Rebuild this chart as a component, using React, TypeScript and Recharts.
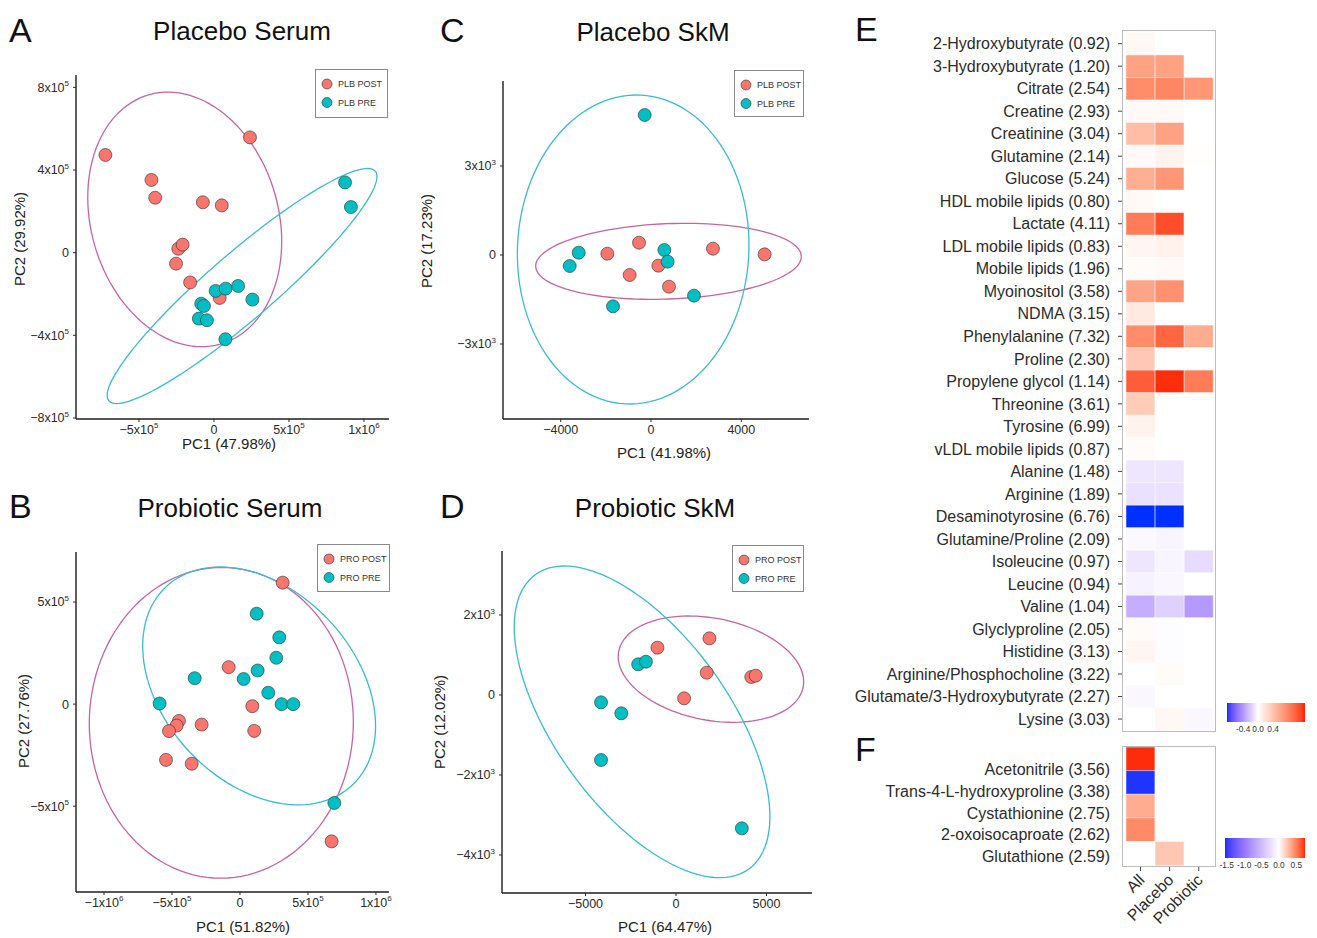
import React from 'react';
import { ScatterChart, Scatter, XAxis, YAxis, Legend, BarChart, Bar, Cell } from 'recharts';

const FONT = '"Liberation Sans", Arial, Helvetica, sans-serif';
const POST_FILL = '#F8766D';
const PRE_FILL = '#00BFC4';
const POST_RING = '#C7649E';
const PRE_RING = '#39BCCB';
const W = 1317;
const H = 938;

type Pt = { x: number; y: number };
type Ell = { cx: number; cy: number; ux: number; uy: number; vx: number; vy: number };

// ---------------- A: Placebo Serum ----------------
const placeboSerumPost: Pt[] = [
  { x: -7.24e5, y: 4.73e5 }, { x: 2.4e5, y: 5.58e5 }, { x: -4.17e5, y: 3.52e5 },
  { x: -3.92e5, y: 2.66e5 }, { x: -0.74e5, y: 2.44e5 }, { x: 0.52e5, y: 2.29e5 },
  { x: -2.38e5, y: 0.19e5 }, { x: -2.09e5, y: 0.39e5 }, { x: -2.53e5, y: -0.53e5 },
  { x: -1.59e5, y: -1.44e5 }, { x: 0.38e5, y: -2.19e5 },
];
const placeboSerumPre: Pt[] = [
  { x: 8.74e5, y: 3.4e5 }, { x: 9.13e5, y: 2.21e5 }, { x: 0.11e5, y: -1.85e5 },
  { x: 0.78e5, y: -1.74e5 }, { x: 1.61e5, y: -1.61e5 }, { x: 2.56e5, y: -2.27e5 },
  { x: -0.85e5, y: -2.47e5 }, { x: -0.67e5, y: -2.58e5 }, { x: -1.01e5, y: -3.19e5 },
  { x: -0.47e5, y: -3.27e5 }, { x: 0.76e5, y: -4.19e5 },
];
const placeboSerumPostEllipse: Ell = { cx: -1.95e5, cy: 1.61e5, ux: 2.36e5, uy: -6.04e5, vx: -6.02e5, vy: -1.22e5 };
const placeboSerumPreEllipse: Ell = { cx: 1.872e5, cy: -1.613e5, ux: 8.876e5, uy: 5.562e5, vx: -1.457e5, vy: 1.205e5 };

// ---------------- B: Probiotic Serum ----------------
const probioticSerumPost: Pt[] = [
  { x: 3.14e5, y: 5.95e5 }, { x: -0.83e5, y: 1.81e5 }, { x: 0.91e5, y: -0.1e5 },
  { x: 1.05e5, y: -1.31e5 }, { x: -2.82e5, y: -1.0e5 }, { x: -4.49e5, y: -0.82e5 },
  { x: -4.66e5, y: -1.05e5 }, { x: -5.22e5, y: -1.32e5 }, { x: -5.44e5, y: -2.73e5 },
  { x: -3.55e5, y: -2.92e5 }, { x: 6.74e5, y: -6.72e5 },
];
const probioticSerumPre: Pt[] = [
  { x: 1.23e5, y: 4.43e5 }, { x: 2.89e5, y: 3.27e5 }, { x: 2.67e5, y: 2.27e5 },
  { x: 1.3e5, y: 1.65e5 }, { x: 0.27e5, y: 1.23e5 }, { x: -3.33e5, y: 1.27e5 },
  { x: 2.08e5, y: 0.56e5 }, { x: 3.06e5, y: 0 }, { x: 3.92e5, y: 0 },
  { x: -5.91e5, y: 0.03e5 }, { x: 6.94e5, y: -4.84e5 },
];
const probioticSerumPostEllipse: Ell = { cx: -1.373e5, cy: -0.915e5, ux: 9.71e5, uy: 0, vx: 0.05e5, vy: 7.61e5 };
const probioticSerumPreEllipse: Ell = { cx: 1.409e5, cy: 0.891e5, ux: -6.858e5, uy: 4.851e5, vx: -5.128e5, vy: -3.222e5 };

// ---------------- C: Placebo SkM ----------------
const placeboSkmPost: Pt[] = [
  { x: -1934, y: 45 }, { x: -531, y: 416 }, { x: -945, y: -674 }, { x: 325, y: -360 },
  { x: 797, y: -1067 }, { x: 2745, y: 213 }, { x: 5033, y: 22 },
];
const placeboSkmPre: Pt[] = [
  { x: -280, y: 4719 }, { x: -3203, y: 79 }, { x: -3601, y: -371 }, { x: 590, y: 169 },
  { x: 738, y: -225 }, { x: 1904, y: -1371 }, { x: -1683, y: -1730 },
];
const placeboSkmPostEllipse: Ell = { cx: 775, cy: -214, ux: 5882, uy: 175, vx: -65, vy: 1269 };
const placeboSkmPreEllipse: Ell = { cx: -790, cy: 185, ux: 334, uy: 5205, vx: -5119, vy: 190 };

// ---------------- D: Probiotic SkM ----------------
const probioticSkmPost: Pt[] = [
  { x: -1026, y: 1183 }, { x: 1847, y: 1417 }, { x: 1698, y: 558 },
  { x: 448, y: -83 }, { x: 4160, y: 450 }, { x: 4403, y: 483 },
];
const probioticSkmPre: Pt[] = [
  { x: -2090, y: 767 }, { x: -1660, y: 833 }, { x: -4142, y: -183 },
  { x: -3022, y: -458 }, { x: -4142, y: -1625 }, { x: 3638, y: -3333 },
];
const probioticSkmPostEllipse: Ell = { cx: 1931, cy: 646, ux: 5091, uy: -453, vx: 558, vy: 1249 };
const probioticSkmPreEllipse: Ell = { cx: -1875, cy: -671, ux: -5863, uy: 3691, vx: -3939, vy: -1248 };

// ---------------- E: heatmap ----------------
const eMetabolites = [
  '2-Hydroxybutyrate (0.92)', '3-Hydroxybutyrate (1.20)', 'Citrate (2.54)', 'Creatine (2.93)',
  'Creatinine (3.04)', 'Glutamine (2.14)', 'Glucose (5.24)', 'HDL mobile lipids (0.80)',
  'Lactate (4.11)', 'LDL mobile lipids (0.83)', 'Mobile lipids (1.96)', 'Myoinositol (3.58)',
  'NDMA (3.15)', 'Phenylalanine (7.32)', 'Proline (2.30)', 'Propylene glycol (1.14)',
  'Threonine (3.61)', 'Tyrosine (6.99)', 'vLDL mobile lipids (0.87)', 'Alanine (1.48)',
  'Arginine (1.89)', 'Desaminotyrosine (6.76)', 'Glutamine/Proline (2.09)', 'Isoleucine (0.97)',
  'Leucine (0.94)', 'Valine (1.04)', 'Glyclyproline (2.05)', 'Histidine (3.13)',
  'Arginine/Phosphocholine (3.22)', 'Glutamate/3-Hydroxybutyrate (2.27)', 'Lysine (3.03)',
];
const eAll = [0.05, 0.62, 0.75, 0.04, 0.44, 0.04, 0.54, 0.04, 0.85, 0.06, 0.03, 0.6, 0.15, 0.75, 0.37, 1.02,
  0.34, 0.08, 0.03, -0.1, -0.12, -0.83, -0.025, -0.1, -0.05, -0.32, 0.03, 0.06, 0, -0.03, 0];
const ePlacebo = [0, 0.62, 0.79, 0.04, 0.62, 0.08, 0.69, 0, 1.09, 0.09, 0.04, 0.72, 0, 0.97, 0, 1.21,
  0, 0, 0, -0.1, -0.11, -0.83, -0.04, -0.04, -0.03, -0.18, -0.01, -0.01, 0.03, 0, 0.05];
const eProbiotic = [0, 0, 0.69, 0, 0, 0.01, 0, 0, 0, 0, 0, 0, 0, 0.55, 0, 0.85,
  0, 0, 0, 0, 0, 0, 0, -0.14, 0, -0.4, 0, 0, 0, 0, -0.03];
const eLimits = [-0.83, 1.25];
const eBarTicks = [-0.4, 0, 0.4];

// ---------------- F: heatmap ----------------
const fMetabolites = [
  'Acetonitrile (3.56)', 'Trans-4-L-hydroxyproline (3.38)', 'Cystathionine (2.75)',
  '2-oxoisocaproate (2.62)', 'Glutathione (2.59)',
];
const fAll = [0.73, -1.52, 0.33, 0.46, 0];
const fPlacebo = [0, 0, 0, 0, 0.23];
const fProbiotic = [0, 0, 0, 0, 0];
const fLimits = [-1.55, 0.75];
const fBarTicks = [-1.5, -1.0, -0.5, 0.0, 0.5];

const groups = ['All', 'Placebo', 'Probiotic'];

// ---------------- colour scale (Lab interpolation like ggplot gradient2) ----------------
const toLin = (c: number) => { const v = c / 255; return v <= 0.04045 ? v / 12.92 : Math.pow((v + 0.055) / 1.055, 2.4); };
const toSrgb = (c: number) => { const v = c <= 0.0031308 ? 12.92 * c : 1.055 * Math.pow(c, 1 / 2.4) - 0.055; return Math.round(Math.max(0, Math.min(1, v)) * 255); };
const hexToLab = (hex: string) => {
  const r = toLin(parseInt(hex.slice(1, 3), 16)), g = toLin(parseInt(hex.slice(3, 5), 16)), b = toLin(parseInt(hex.slice(5, 7), 16));
  const X = (0.4124 * r + 0.3576 * g + 0.1805 * b) / 0.95047;
  const Y = 0.2126 * r + 0.7152 * g + 0.0722 * b;
  const Z = (0.0193 * r + 0.1192 * g + 0.9505 * b) / 1.08883;
  const f = (t: number) => (t > 0.008856 ? Math.cbrt(t) : 7.787 * t + 16 / 116);
  const fx = f(X), fy = f(Y), fz = f(Z);
  return [116 * fy - 16, 500 * (fx - fy), 200 * (fy - fz)];
};
const labToCss = (L: number, a: number, bb: number) => {
  const fy = (L + 16) / 116, fx = fy + a / 500, fz = fy - bb / 200;
  const inv = (t: number) => (t * t * t > 0.008856 ? t * t * t : (t - 16 / 116) / 7.787);
  const X = inv(fx) * 0.95047, Y = inv(fy), Z = inv(fz) * 1.08883;
  const r = 3.2406 * X - 1.5372 * Y - 0.4986 * Z;
  const g = -0.9689 * X + 1.8758 * Y + 0.0415 * Z;
  const b = 0.0557 * X - 0.204 * Y + 1.057 * Z;
  return `rgb(${toSrgb(r)},${toSrgb(g)},${toSrgb(b)})`;
};
const LAB_W = hexToLab('#FFFFFF');
const LAB_R = hexToLab('#FF1E00');
const LAB_B = hexToLab('#0030FF');
const makeScale = (lo: number, hi: number) => (v: number) => {
  const end = v >= 0 ? LAB_R : LAB_B;
  const t = Math.max(0, Math.min(1, v >= 0 ? v / hi : v / lo));
  return labToCss(
    LAB_W[0] + (end[0] - LAB_W[0]) * t,
    LAB_W[1] + (end[1] - LAB_W[1]) * t,
    LAB_W[2] + (end[2] - LAB_W[2]) * t,
  );
};
const eColor = makeScale(eLimits[0], eLimits[1]);
const fColor = makeScale(fLimits[0], fLimits[1]);

// ---------------- helpers ----------------
const ellipsePoints = (e: Ell): Pt[] => {
  const pts: Pt[] = [];
  const n = 120;
  for (let i = 0; i <= n; i++) {
    const t = (2 * Math.PI * i) / n;
    pts.push({ x: e.cx + e.ux * Math.cos(t) + e.vx * Math.sin(t), y: e.cy + e.uy * Math.cos(t) + e.vy * Math.sin(t) });
  }
  return pts;
};

const fmtTick = (v: number, sci: boolean) => {
  if (v === 0) return { base: '0', exp: '' };
  const sign = v < 0 ? '\u2212' : '';
  const a = Math.abs(v);
  if (!sci) return { base: sign + a, exp: '' };
  const e = Math.floor(Math.log10(a) + 1e-9);
  const m = Math.round((a / Math.pow(10, e)) * 100) / 100;
  return { base: `${sign}${m}x10`, exp: String(e) };
};

const makeTick = (sci: boolean, side: 'left' | 'bottom') => (props: any) => {
  const { x, y, payload } = props;
  const { base, exp } = fmtTick(payload.value, sci);
  return (
    <text x={x} y={y} textAnchor={side === 'left' ? 'end' : 'middle'} dy={side === 'left' ? 4.4 : 9.6}
      fontSize={12.5} fill="#2a2a2a" fontFamily={FONT}>
      <tspan>{base}</tspan>
      {exp ? <tspan dy={-5.5} fontSize={8}>{exp}</tspan> : null}
    </text>
  );
};

const dot = (fill: string) => (props: any) => (
  <circle cx={props.cx} cy={props.cy} r={6.5} fill={fill} stroke="#2e2e2e" strokeWidth={0.6} />
);

type PanelDef = {
  letter: string; letterPos: [number, number];
  title: string; titlePos: [number, number];
  chart: { left: number; top: number };
  plot: { left: number; top: number; right: number; bottom: number };
  xDomain: [number, number]; yDomain: [number, number];
  xTicks: number[]; yTicks: number[]; xSci: boolean; ySci: boolean;
  xLabel: string; xLabelPos: [number, number];
  yLabel: string; yLabelPos: [number, number];
  legendNames: [string, string];
  legendBox: { left: number; top: number; width: number; height: number };
  post: Pt[]; pre: Pt[]; postEll: Ell; preEll: Ell;
};

const panels: PanelDef[] = [
  {
    letter: 'A', letterPos: [9, 42], title: 'Placebo Serum', titlePos: [242, 40],
    chart: { left: 0, top: 65 }, plot: { left: 76, top: 75, right: 389, bottom: 419 },
    xDomain: [-9.2e5, 1.167e6], yDomain: [-8.05e5, 8.6e5],
    xTicks: [-5e5, 0, 5e5, 1e6], yTicks: [-8e5, -4e5, 0, 4e5, 8e5], xSci: true, ySci: true,
    xLabel: 'PC1 (47.98%)', xLabelPos: [229, 449], yLabel: 'PC2 (29.92%)', yLabelPos: [25, 239],
    legendNames: ['PLB POST', 'PLB PRE'], legendBox: { left: 315, top: 69, width: 73, height: 49 },
    post: placeboSerumPost, pre: placeboSerumPre, postEll: placeboSerumPostEllipse, preEll: placeboSerumPreEllipse,
  },
  {
    letter: 'B', letterPos: [9, 518], title: 'Probiotic Serum', titlePos: [230, 517],
    chart: { left: 0, top: 542 }, plot: { left: 76, top: 552, right: 389, bottom: 892 },
    xDomain: [-1.206e6, 1.096e6], yDomain: [-9.2e5, 7.45e5],
    xTicks: [-1e6, -5e5, 0, 5e5, 1e6], yTicks: [-5e5, 0, 5e5], xSci: true, ySci: true,
    xLabel: 'PC1 (51.82%)', xLabelPos: [243, 932], yLabel: 'PC2 (27.76%)', yLabelPos: [29, 721],
    legendNames: ['PRO POST', 'PRO PRE'], legendBox: { left: 317, top: 544, width: 73, height: 48 },
    post: probioticSerumPost, pre: probioticSerumPre, postEll: probioticSerumPostEllipse, preEll: probioticSerumPreEllipse,
  },
  {
    letter: 'C', letterPos: [440, 42], title: 'Placebo SkM', titlePos: [653, 41],
    chart: { left: 430, top: 71 }, plot: { left: 503, top: 81, right: 809, bottom: 419 },
    xDomain: [-6556, 6999], yDomain: [-5528, 5865],
    xTicks: [-4000, 0, 4000], yTicks: [-3000, 0, 3000], xSci: false, ySci: true,
    xLabel: 'PC1 (41.98%)', xLabelPos: [664, 458], yLabel: 'PC2 (17.23%)', yLabelPos: [432, 241],
    legendNames: ['PLB POST', 'PLB PRE'], legendBox: { left: 734, top: 70, width: 70, height: 47 },
    post: placeboSkmPost, pre: placeboSkmPre, postEll: placeboSkmPostEllipse, preEll: placeboSkmPreEllipse,
  },
  {
    letter: 'D', letterPos: [440, 518], title: 'Probiotic SkM', titlePos: [655, 517],
    chart: { left: 430, top: 541 }, plot: { left: 502, top: 551, right: 812, bottom: 893 },
    xDomain: [-9613, 7514], yDomain: [-4950, 3600],
    xTicks: [-5000, 0, 5000], yTicks: [-4000, -2000, 0, 2000], xSci: false, ySci: true,
    xLabel: 'PC1 (64.47%)', xLabelPos: [665, 932], yLabel: 'PC2 (12.02%)', yLabelPos: [445, 722],
    legendNames: ['PRO POST', 'PRO PRE'], legendBox: { left: 732, top: 545, width: 72, height: 47 },
    post: probioticSkmPost, pre: probioticSkmPre, postEll: probioticSkmPostEllipse, preEll: probioticSkmPreEllipse,
  },
];

const LegendBox = ({ names, w, h }: { names: [string, string]; w: number; h: number }) => (
  <svg width={w} height={h} style={{ display: 'block' }}>
    <rect x={0.5} y={0.5} width={w - 1} height={h - 1} fill="#fff" stroke="#8a8a8a" strokeWidth={1} />
    {[POST_FILL, PRE_FILL].map((c, i) => (
      <g key={i}>
        <circle cx={12} cy={15 + i * 18.5} r={5} fill={c} stroke="#2e2e2e" strokeWidth={0.6} />
        <text x={23} y={18.3 + i * 18.5} fontSize={9} fill="#333" fontFamily={FONT}>{names[i]}</text>
      </g>
    ))}
  </svg>
);

function ScatterPanel({ p }: { p: PanelDef }) {
  const yW = p.plot.left - p.chart.left;
  const width = p.plot.right + 10 - p.chart.left;
  const height = p.plot.bottom + 25 - p.chart.top;
  const mTop = p.plot.top - p.chart.top;
  const axisLine = { stroke: '#1e1e1e', strokeWidth: 1.4 };
  const tickLine = { stroke: '#2a2a2a', strokeWidth: 1 };
  return (
    <div style={{ position: 'absolute', left: p.chart.left, top: p.chart.top }}>
      <ScatterChart width={width} height={height} margin={{ top: mTop, right: 10, bottom: 0, left: 0 }}>
        <XAxis type="number" dataKey="x" domain={p.xDomain} ticks={p.xTicks} allowDataOverflow interval={0}
          height={25} tickSize={3} tickMargin={2} axisLine={axisLine} tickLine={tickLine} tick={makeTick(p.xSci, 'bottom')} />
        <YAxis type="number" dataKey="y" domain={p.yDomain} ticks={p.yTicks} allowDataOverflow interval={0}
          width={yW} tickSize={3} tickMargin={4} axisLine={axisLine} tickLine={tickLine} tick={makeTick(p.ySci, 'left')} />
        <Legend layout="horizontal" verticalAlign="middle" align="center"
          wrapperStyle={{ left: p.legendBox.left - p.chart.left, top: p.legendBox.top - p.chart.top, width: p.legendBox.width, height: p.legendBox.height }}
          content={() => <LegendBox names={p.legendNames} w={p.legendBox.width} h={p.legendBox.height} />} />
        <Scatter name="post-ellipse" data={ellipsePoints(p.postEll)} line={{ stroke: POST_RING, strokeWidth: 1.3 }}
          shape={() => <g />} legendType="none" isAnimationActive={false} />
        <Scatter name="pre-ellipse" data={ellipsePoints(p.preEll)} line={{ stroke: PRE_RING, strokeWidth: 1.3 }}
          shape={() => <g />} legendType="none" isAnimationActive={false} />
        <Scatter name={p.legendNames[0]} data={p.post} fill={POST_FILL} shape={dot(POST_FILL)} isAnimationActive={false} />
        <Scatter name={p.legendNames[1]} data={p.pre} fill={PRE_FILL} shape={dot(PRE_FILL)} isAnimationActive={false} />
      </ScatterChart>
    </div>
  );
}

const eRows = eMetabolites.map((name) => ({ name, all: 1, placebo: 1, probiotic: 1 }));
const fRows = fMetabolites.map((name) => ({ name, all: 1, placebo: 1, probiotic: 1 }));
const COL_DOMAIN: [number, number] = [-0.137, 3.093];
const colTicks = [0.5, 1.5, 2.5];
const cellStroke = { stroke: '#ffffff', strokeWidth: 0.8, strokeOpacity: 0.6 };

const RotTick = (props: any) => {
  const { x, y, payload } = props;
  const label = groups[Math.floor(payload.value)];
  const px = x + 5, py = y + 8;
  return (
    <text x={px} y={py} textAnchor="end" transform={`rotate(-45 ${px} ${py})`} fontSize={16} fill="#2b2b2b" fontFamily={FONT}>{label}</text>
  );
};

const ColorBar = ({ left, top, width, height, lo, hi, ticks, scale }: any) => {
  const n = 60;
  const stops: string[] = [];
  for (let i = 0; i <= n; i++) {
    const v = lo + ((hi - lo) * i) / n;
    stops.push(`${scale(v)} ${((i / n) * 100).toFixed(2)}%`);
  }
  return (
    <>
      <div style={{ position: 'absolute', left, top, width, height, background: `linear-gradient(to right, ${stops.join(', ')})` }} />
      {ticks.map((t: number) => (
        <div key={t} style={{ position: 'absolute', left: left + ((t - lo) / (hi - lo)) * width - 20, width: 40, top: top + height + 2,
          textAlign: 'center', fontSize: 8.3, lineHeight: '10px', color: '#333', fontFamily: FONT }}>{t.toFixed(1)}</div>
      ))}
    </>
  );
};

export default function App() {
  return (
    <div style={{ position: 'absolute', left: 0, top: 0, width: W, height: H, background: '#fff', overflow: 'hidden', fontFamily: FONT }}>
      {panels.map((p) => <ScatterPanel key={p.letter} p={p} />)}

      {/* E heatmap */}
      <div style={{ position: 'absolute', left: 840, top: 20 }}>
        <BarChart layout="vertical" width={380} height={722} data={eRows} barCategoryGap={0} barGap={0}
          margin={{ top: 10, right: 4, bottom: 0, left: 0 }}>
          <XAxis type="number" domain={COL_DOMAIN} ticks={colTicks} allowDataOverflow height={10} tickSize={4}
            axisLine={false} tick={false} tickLine={{ stroke: '#444' }} />
          <YAxis type="category" dataKey="name" width={282} tickSize={4} tickMargin={8} axisLine={false} interval={0}
            padding={{ top: 2.4, bottom: 1.7 }} tickLine={{ stroke: '#444' }}
            tick={{ fontSize: 16, fill: '#2b2b2b', fontFamily: FONT }} />
          <Bar dataKey="all" stackId="t" isAnimationActive={false}>
            {eRows.map((r, i) => <Cell key={r.name} fill={eColor(eAll[i])} {...cellStroke} />)}
          </Bar>
          <Bar dataKey="placebo" stackId="t" isAnimationActive={false}>
            {eRows.map((r, i) => <Cell key={r.name} fill={eColor(ePlacebo[i])} {...cellStroke} />)}
          </Bar>
          <Bar dataKey="probiotic" stackId="t" isAnimationActive={false}>
            {eRows.map((r, i) => <Cell key={r.name} fill={eColor(eProbiotic[i])} {...cellStroke} />)}
          </Bar>
        </BarChart>
      </div>
      <div style={{ position: 'absolute', left: 1122, top: 30, width: 94, height: 702, border: '1px solid #bcbcbc', boxSizing: 'border-box', pointerEvents: 'none' }} />

      {/* F heatmap */}
      <div style={{ position: 'absolute', left: 840, top: 736 }}>
        <BarChart layout="vertical" width={380} height={200} data={fRows} barCategoryGap={0} barGap={0}
          margin={{ top: 10, right: 4, bottom: 0, left: 0 }}>
          <XAxis type="number" domain={COL_DOMAIN} ticks={colTicks} allowDataOverflow height={69} tickSize={4}
            axisLine={false} tickLine={{ stroke: '#444' }} tick={RotTick} />
          <YAxis yAxisId="cells" type="category" dataKey="name" width={4} tickSize={4} axisLine={false} interval={0}
            padding={{ top: 1, bottom: 2 }} tickLine={{ stroke: '#444' }} tick={false} />
          <YAxis yAxisId="labels" type="category" dataKey="name" width={278} tickSize={0} tickMargin={8} axisLine={false}
            interval={0} padding={{ top: 13, bottom: 0 }} tickLine={false}
            tick={{ fontSize: 16, fill: '#2b2b2b', fontFamily: FONT }} />
          <Bar yAxisId="cells" dataKey="all" stackId="t" isAnimationActive={false}>
            {fRows.map((r, i) => <Cell key={r.name} fill={fColor(fAll[i])} {...cellStroke} />)}
          </Bar>
          <Bar yAxisId="cells" dataKey="placebo" stackId="t" isAnimationActive={false}>
            {fRows.map((r, i) => <Cell key={r.name} fill={fColor(fPlacebo[i])} {...cellStroke} />)}
          </Bar>
          <Bar yAxisId="cells" dataKey="probiotic" stackId="t" isAnimationActive={false}>
            {fRows.map((r, i) => <Cell key={r.name} fill={fColor(fProbiotic[i])} {...cellStroke} />)}
          </Bar>
        </BarChart>
      </div>
      <div style={{ position: 'absolute', left: 1122, top: 746, width: 94, height: 121, border: '1px solid #bcbcbc', boxSizing: 'border-box', pointerEvents: 'none' }} />

      <ColorBar left={1227} top={703} width={78} height={19} lo={eLimits[0]} hi={eLimits[1]} ticks={eBarTicks} scale={eColor} />
      <ColorBar left={1225} top={838} width={80} height={20} lo={fLimits[0]} hi={fLimits[1]} ticks={fBarTicks} scale={fColor} />

      {/* titles, panel letters, axis labels */}
      <svg width={W} height={H} style={{ position: 'absolute', left: 0, top: 0, pointerEvents: 'none' }}>
        {panels.map((p) => (
          <g key={p.letter} fontFamily={FONT}>
            <text x={p.letterPos[0]} y={p.letterPos[1]} fontSize={34} fill="#111">{p.letter}</text>
            <text x={p.titlePos[0]} y={p.titlePos[1]} fontSize={26} fill="#111" textAnchor="middle">{p.title}</text>
            <text x={p.xLabelPos[0]} y={p.xLabelPos[1]} fontSize={15} fill="#222" textAnchor="middle">{p.xLabel}</text>
            <text x={p.yLabelPos[0]} y={p.yLabelPos[1]} fontSize={15} fill="#222" textAnchor="middle"
              transform={`rotate(-90 ${p.yLabelPos[0]} ${p.yLabelPos[1]})`}>{p.yLabel}</text>
          </g>
        ))}
        <text x={855} y={41} fontSize={34} fill="#111" fontFamily={FONT}>E</text>
        <text x={855} y={761} fontSize={34} fill="#111" fontFamily={FONT}>F</text>
      </svg>
    </div>
  );
}
